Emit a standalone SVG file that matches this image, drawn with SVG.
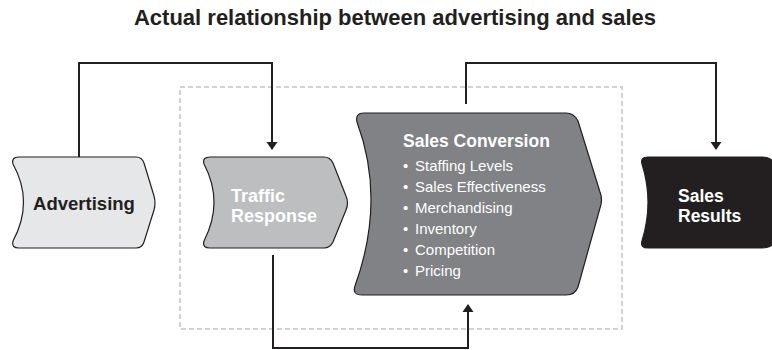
<svg xmlns="http://www.w3.org/2000/svg" width="772" height="350" viewBox="0 0 772 350">
<defs>
<style>
.node{stroke:#231f20;stroke-width:1.2;}
.conn{fill:none;stroke:#231f20;stroke-width:2;}
.lbl{font-family:"Liberation Sans",Arial,sans-serif;font-weight:bold;}
.bul{font-family:"Liberation Sans",Arial,sans-serif;font-size:15px;fill:#ffffff;}
</style>
<marker id="arr" markerWidth="8" markerHeight="12" refX="7" refY="6" orient="auto" markerUnits="userSpaceOnUse">
<path d="M0,0.5 L8,6 L0,11.5 Z" fill="#231f20"/>
</marker>
</defs>
<rect width="772" height="350" fill="#ffffff"/>
<text x="395" y="25" text-anchor="middle" class="lbl" font-size="22" fill="#231f20">Actual relationship between advertising and sales</text>
<rect id="boundary" x="180" y="87" width="442" height="242" fill="none" stroke="#d1d2d3" stroke-width="2" stroke-dasharray="5,3"/>
<g id="connectors">
<path class="conn" d="M79,157 L79,63 L272,63 L272,149" marker-end="url(#arr)"/>
<path class="conn" d="M466,104 L466,63 L716,63 L716,149" marker-end="url(#arr)"/>
<path class="conn" d="M273,255 L273,348 L468,348 L468,305" marker-end="url(#arr)"/>
</g>
<g id="advertising">
<path class="node" fill="#e6e7e8" d="M19,157 L136,157 Q142,157 144,163 L154,196 Q156,203 154,210 L144,242 Q142,248 136,248 L19,248 Q11,248 13,241 Q34,202 13,164 Q11,157 19,157 Z"/>
<text x="84" y="210" text-anchor="middle" class="lbl" font-size="18.5" fill="#231f20">Advertising</text>
</g>
<g id="traffic">
<path class="node" fill="#bcbec0" d="M210,157 L324,157 Q330,157 333,163 L346,196 Q349,203 346,210 L333,242 Q330,248 324,248 L210,248 Q202,248 204,241 Q224,202 204,164 Q202,157 210,157 Z"/>
<text x="231" y="202" class="lbl" font-size="18" fill="#ffffff">Traffic</text>
<text x="231" y="222" class="lbl" font-size="18" fill="#ffffff">Response</text>
</g>
<g id="conversion">
<path class="node" fill="#808285" d="M364,113 L566,113 Q574,113 578,121 L600,192 Q603,200 600,208 L578,287 Q575,295 566,295 L362,295 Q352,295 355,286 Q386,200 357,122 Q355,113 364,113 Z"/>
<text x="403" y="147" class="lbl" font-size="17.5" fill="#ffffff">Sales Conversion</text>
<g class="bul">
<text x="403" y="171">•</text><text x="415" y="171">Staffing Levels</text>
<text x="403" y="192">•</text><text x="415" y="192">Sales Effectiveness</text>
<text x="403" y="213">•</text><text x="415" y="213">Merchandising</text>
<text x="403" y="234">•</text><text x="415" y="234">Inventory</text>
<text x="403" y="255">•</text><text x="415" y="255">Competition</text>
<text x="403" y="276">•</text><text x="415" y="276">Pricing</text>
</g>
</g>
<g id="results">
<path class="node" fill="#231f20" d="M648,157 L762,157 Q772,157 775,165 L790,203 L775,241 Q772,248 762,248 L648,248 Q640,248 642,241 Q654,202 642,164 Q640,157 648,157 Z"/>
<text x="678" y="202" class="lbl" font-size="17.5" fill="#ffffff">Sales</text>
<text x="678" y="222" class="lbl" font-size="17.5" fill="#ffffff">Results</text>
</g>
</svg>
